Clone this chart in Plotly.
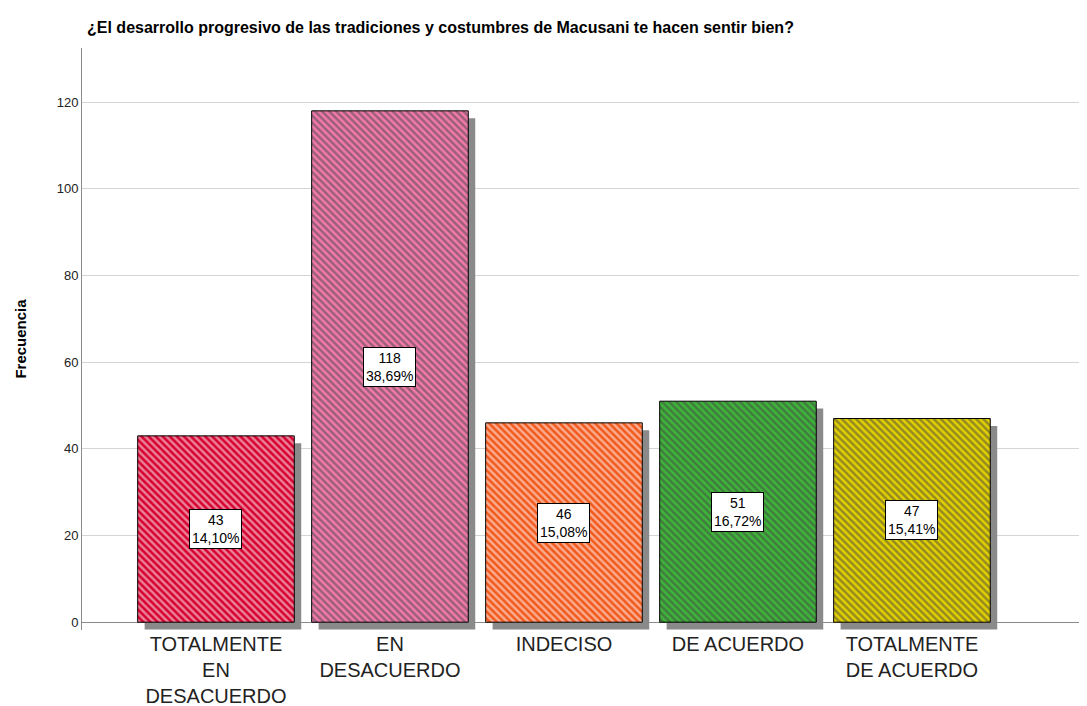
import plotly.graph_objects as go

categorias = ["TOTALMENTE<br>EN<br>DESACUERDO", "EN<br>DESACUERDO", "INDECISO",
              "DE ACUERDO", "TOTALMENTE<br>DE ACUERDO"]
frecuencias = [43, 118, 46, 51, 47]
porcentajes = ["14,10%", "38,69%", "15,08%", "16,72%", "15,41%"]
colores = ["#d6002e", "#f27aab", "#f2581c", "#3fb43a", "#e3d000"]

pos = list(range(len(categorias)))
sombra = 1.7  # shadow drop in y units

fig = go.Figure()

# gray drop shadow behind each bar
fig.add_trace(go.Bar(
    x=pos, y=frecuencias, base=[-sombra] * len(pos),
    width=0.9, offset=-0.41,
    marker=dict(color="#8a8a8a", line=dict(width=0)),
    hoverinfo="skip", showlegend=False,
))

fig.add_trace(go.Bar(
    x=pos, y=frecuencias,
    width=0.9, offset=-0.45,
    marker=dict(
        color=colores,
        line=dict(color="black", width=1),
        pattern=dict(shape="\\", fgcolor=["black"] * len(pos), bgcolor=colores,
                     size=5, solidity=0.5, fillmode="overlay"),
    ),
    showlegend=False,
))

for x, f, p in zip(pos, frecuencias, porcentajes):
    fig.add_annotation(
        x=x, y=f / 2, text=f"{f}<br>{p}", showarrow=False,
        font=dict(family="Liberation Sans, Arial", size=14, color="black"),
        bgcolor="white", bordercolor="black", borderwidth=1, borderpad=2,
    )

fig.update_layout(
    width=1087, height=706,
    margin=dict(l=74, r=8, t=40, b=84),
    plot_bgcolor="white", paper_bgcolor="white",
    barmode="overlay",
    title=dict(
        text="<b>¿El desarrollo progresivo de las tradiciones y costumbres de Macusani te hacen sentir bien?</b>",
        x=0.0727, xref="container", xanchor="left", y=0.972, yanchor="middle",
        font=dict(family="Liberation Sans, Arial", size=16, color="black"),
    ),
    font=dict(family="Liberation Sans, Arial", color="#222"),
)

fig.update_xaxes(
    tickvals=pos, ticktext=categorias,
    range=[-0.77, 5.006],
    showgrid=False, showline=False, zeroline=False,
    tickfont=dict(size=20, color="#222"),
    automargin=False,
)

fig.update_yaxes(
    range=[-sombra - 0.1, 132.5],
    tickvals=[0, 20, 40, 60, 80, 100, 120],
    showgrid=True, gridcolor="#d4d4d4", gridwidth=1,
    zeroline=True, zerolinecolor="#8a8a8a", zerolinewidth=1,
    showline=True, linecolor="#8a8a8a", linewidth=1,
    tickfont=dict(size=13, color="#222"),
    title=dict(text="<b>Frecuencia</b>", font=dict(size=15, color="black"), standoff=26),
    automargin=False,
)

fig.write_html("out.html")
